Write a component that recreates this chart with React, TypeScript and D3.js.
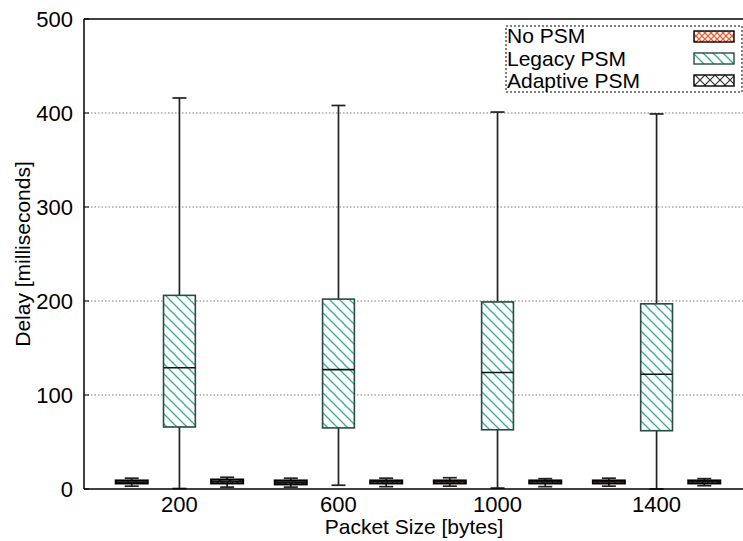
import React from "react";
import * as d3 from "d3";

const categories = ["200", "600", "1000", "1400"];
const seriesNames = ["No PSM", "Legacy PSM", "Adaptive PSM"];
// [min, q1, median, q3, max] per category
const noPsm = [
  [3, 6, 7, 9, 11.5],
  [2, 5, 7, 9, 11.5],
  [3, 6, 8, 9, 12],
  [3, 6, 8, 9, 11.5],
];
const legacyPsm = [
  [0.5, 66, 129, 206, 416],
  [4, 65, 127, 202, 408],
  [1, 63, 124, 199, 401],
  [0, 62, 122, 197, 399],
];
const adaptivePsm = [
  [2, 6, 8, 10, 12.5],
  [2.5, 6, 8, 9, 11.5],
  [2.5, 6, 8, 9, 11],
  [3.5, 6, 8, 9, 11],
];
const yTicks = [0, 100, 200, 300, 400, 500];
const gridTicks = [100, 200, 300, 400];

const W = 743;
const H = 541;
const left = 84;
const right = 752;
const top = 19;
const bottom = 489;
const FONT = "'Liberation Sans', Arial, Helvetica, sans-serif";

const seriesData = [noPsm, legacyPsm, adaptivePsm];
const seriesFill = ["url(#patOrange)", "url(#patTeal)", "url(#patBlack)"];
const seriesStroke = ["#000", "#2a4a44", "#000"];
const seriesStrokeW = [2.2, 1.6, 2.2];
const offsets = [-0.3, 0, 0.3];

export default function App() {
  const x = d3.scaleLinear().domain([0.4, 4.6]).range([left, right]);
  const y = d3.scaleLinear().domain([0, 500]).range([bottom, top]);
  const boxW = x(1.1) - x(0.9);
  const capW = 14;

  return (
    <svg
      width={W}
      height={H}
      style={{ position: "absolute", left: 0, top: 0, background: "#fff" }}
      fontFamily={FONT}
    >
      <defs>
        <pattern id="patOrange" patternUnits="userSpaceOnUse" width="6" height="6">
          <rect width="6" height="6" fill="#fff" />
          <path d="M0,0 L6,6 M6,0 L0,6" stroke="#e8603c" strokeWidth="1.3" />
        </pattern>
        <pattern id="patTeal" patternUnits="userSpaceOnUse" width="10" height="10">
          <rect width="10" height="10" fill="#fff" />
          <path d="M0,0 L10,10 M-5,5 L5,15 M5,-5 L15,5" stroke="#3aaa94" strokeWidth="1.3" />
        </pattern>
        <pattern id="patBlack" patternUnits="userSpaceOnUse" width="10" height="10">
          <rect width="10" height="10" fill="#fff" />
          <path d="M0,0 L10,10 M10,0 L0,10" stroke="#333" strokeWidth="1.2" />
        </pattern>
      </defs>

      {/* grid */}
      {gridTicks.map((t) => (
        <line
          key={"g" + t}
          x1={left}
          x2={right}
          y1={y(t)}
          y2={y(t)}
          stroke="#777"
          strokeWidth={1}
          strokeDasharray="1.5,2"
        />
      ))}
      {/* y tick marks */}
      {yTicks.map((t) => (
        <line key={"t" + t} x1={left} x2={left + 5} y1={y(t)} y2={y(t)} stroke="#000" />
      ))}

      {/* boxes */}
      {seriesData.map((data, si) =>
        data.map((d, ci) => {
          const cx = x(ci + 1 + offsets[si]);
          const [mn, q1, md, q3, mx] = d;
          return (
            <g key={si + "-" + ci}>
              <line x1={cx} x2={cx} y1={y(mx)} y2={y(q3)} stroke="#222" strokeWidth={1.7} />
              <line x1={cx} x2={cx} y1={y(q1)} y2={y(mn)} stroke="#222" strokeWidth={1.7} />
              <line x1={cx - capW / 2} x2={cx + capW / 2} y1={y(mx)} y2={y(mx)} stroke="#222" strokeWidth={1.7} />
              <line x1={cx - capW / 2} x2={cx + capW / 2} y1={y(mn)} y2={y(mn)} stroke="#222" strokeWidth={1.7} />
              <rect
                x={cx - boxW / 2}
                y={y(q3)}
                width={boxW}
                height={y(q1) - y(q3)}
                fill={seriesFill[si]}
                stroke={seriesStroke[si]}
                strokeWidth={seriesStrokeW[si]}
              />
              <line x1={cx - boxW / 2} x2={cx + boxW / 2} y1={y(md)} y2={y(md)} stroke="#111" strokeWidth={1.6} />
            </g>
          );
        })
      )}

      {/* axes border */}
      <line x1={left} x2={left} y1={top} y2={bottom} stroke="#000" strokeWidth={1.5} />
      <line x1={left} x2={right} y1={bottom} y2={bottom} stroke="#000" strokeWidth={1.5} />
      <line x1={left} x2={right} y1={top} y2={top} stroke="#000" strokeWidth={1.5} />
      <line x1={right} x2={right} y1={top} y2={bottom} stroke="#000" strokeWidth={1.5} />

      {/* y tick labels */}
      {yTicks.map((t) => (
        <text key={"yl" + t} x={73} y={y(t) + 8} textAnchor="end" fontSize={22} fill="#000">
          {t}
        </text>
      ))}
      {/* x tick labels */}
      {categories.map((c, i) => (
        <text key={"xl" + c} x={x(i + 1)} y={512} textAnchor="middle" fontSize={22} fill="#000">
          {c}
        </text>
      ))}

      {/* axis titles */}
      <text x={414} y={534} textAnchor="middle" fontSize={21} fill="#000">
        Packet Size [bytes]
      </text>
      <text
        transform={`translate(30, ${(top + bottom) / 2}) rotate(-90)`}
        textAnchor="middle"
        fontSize={21}
        fill="#000"
      >
        Delay [milliseconds]
      </text>

      {/* legend */}
      <rect x={506} y={26} width={236} height={66} fill="#fff" stroke="#000" strokeWidth={1} strokeDasharray="2,2" />
      {seriesNames.map((s, i) => (
        <g key={"lg" + s}>
          <text x={507} y={43 + i * 22.5} fontSize={21} fill="#000">
            {s}
          </text>
          <rect
            x={694}
            y={31 + i * 22}
            width={40}
            height={11}
            fill={seriesFill[i]}
            stroke={seriesStroke[i]}
            strokeWidth={1.4}
          />
        </g>
      ))}
    </svg>
  );
}
